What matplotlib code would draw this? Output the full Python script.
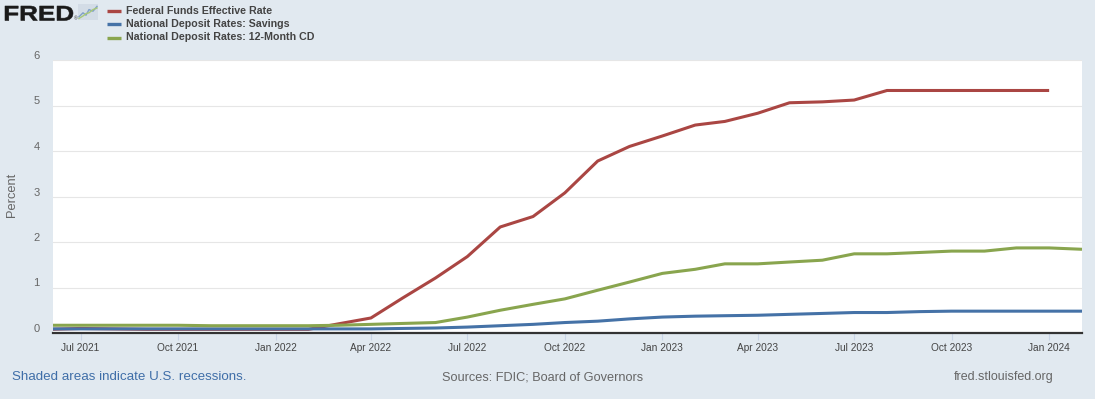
import datetime as dt
import matplotlib
matplotlib.use("Agg")
import matplotlib.pyplot as plt
from matplotlib.textpath import TextPath
from matplotlib.patches import PathPatch, Rectangle
from matplotlib.font_manager import FontProperties
from matplotlib.transforms import Affine2D, ScaledTranslation
from matplotlib.lines import Line2D

# ---- data (monthly, percent) ----
ffr_start = (2021, 6)
fed_funds = [0.08, 0.10, 0.09, 0.08, 0.08, 0.08, 0.08,
             0.08, 0.08, 0.20, 0.33, 0.77, 1.21, 1.68, 2.33, 2.56, 3.08, 3.78, 4.10,
             4.33, 4.57, 4.65, 4.83, 5.06, 5.08, 5.12, 5.33, 5.33, 5.33, 5.33, 5.33,
             5.33]
savings = [0.09, 0.09, 0.09, 0.09, 0.09, 0.09, 0.09,
           0.09, 0.09, 0.09, 0.09, 0.10, 0.11, 0.13, 0.16, 0.19, 0.23, 0.26, 0.31,
           0.35, 0.37, 0.38, 0.39, 0.41, 0.43, 0.45, 0.45, 0.47, 0.48, 0.48, 0.48,
           0.48, 0.48]
cd_12m = [0.17, 0.17, 0.17, 0.17, 0.17, 0.16, 0.16,
          0.16, 0.16, 0.17, 0.19, 0.21, 0.23, 0.35, 0.50, 0.63, 0.75, 0.94, 1.12,
          1.31, 1.40, 1.52, 1.52, 1.56, 1.60, 1.74, 1.74, 1.77, 1.80, 1.80, 1.87,
          1.87, 1.84]
series_names = ["Federal Funds Effective Rate",
                "National Deposit Rates: Savings",
                "National Deposit Rates: 12-Month CD"]
series_colors = ["#AA4643", "#4572A7", "#89A54E"]
tick_dates = [dt.date(2021, 7, 1), dt.date(2021, 10, 1), dt.date(2022, 1, 1),
              dt.date(2022, 4, 1), dt.date(2022, 7, 1), dt.date(2022, 10, 1),
              dt.date(2023, 1, 1), dt.date(2023, 4, 1), dt.date(2023, 7, 1),
              dt.date(2023, 10, 1), dt.date(2024, 1, 1)]
tick_labels = ["Jul 2021", "Oct 2021", "Jan 2022", "Apr 2022", "Jul 2022",
               "Oct 2022", "Jan 2023", "Apr 2023", "Jul 2023", "Oct 2023",
               "Jan 2024"]
y_ticks = [0, 1, 2, 3, 4, 5, 6]


def month_series(start, n):
    y, m = start
    out = []
    for _ in range(n):
        out.append(dt.date(y, m, 1))
        m += 1
        if m > 12:
            m = 1
            y += 1
    return out


W, H = 1095, 399
BG = "#E1E9F0"
plt.rcParams["font.family"] = ["Liberation Sans", "DejaVu Sans"]

fig = plt.figure(figsize=(W / 100, H / 100), dpi=100, facecolor=BG)

# plot area in pixel terms
L, R, T, B = 53, 1082, 60, 333
ax = fig.add_axes([L / W, (H - B) / H, (R - L) / W, (B - T) / H])
ax.set_facecolor("white")

d_ffr = month_series(ffr_start, len(fed_funds))
d_sav = month_series(ffr_start, len(savings))
d_cd = month_series(ffr_start, len(cd_12m))

lw = 2.2
ax.plot(d_ffr, fed_funds, color=series_colors[0], lw=lw, zorder=3, solid_capstyle="butt")
ax.plot(d_sav, savings, color=series_colors[1], lw=lw, zorder=4, solid_capstyle="butt")
ax.plot(d_cd, cd_12m, color=series_colors[2], lw=lw, zorder=5, solid_capstyle="butt")

ax.set_xlim(dt.date(2021, 6, 5), dt.date(2024, 2, 1))
ax.set_ylim(0, 6)

ax.set_yticks(y_ticks)
ax.set_yticklabels([str(v) for v in y_ticks])
ax.yaxis.grid(True, color="#E6E6E6", lw=0.8)
ax.set_axisbelow(True)
ax.tick_params(axis="y", length=0, pad=9.5, labelsize=8, labelcolor="#666666")
offset = ScaledTranslation(0, 5 / 100, fig.dpi_scale_trans)
for lab in ax.get_yticklabels():
    lab.set_transform(lab.get_transform() + offset)

ax.set_xticks(tick_dates)
ax.set_xticklabels(tick_labels)
ax.tick_params(axis="x", length=5, width=0.8, color="#C8D4E6", pad=2.5,
               labelsize=7.3, labelcolor="#444444")

for s in ["top", "left", "right"]:
    ax.spines[s].set_visible(False)
ax.spines["bottom"].set_color("#333333")
ax.spines["bottom"].set_linewidth(1.6)
ax.spines["bottom"].set_zorder(6)

# y axis title
fig.text(12 / W, 1 - 195 / H, "Percent", rotation=90, ha="center", va="center",
         fontsize=9.3, color="#666666")

# ---- header: logo + legend ----
def px(x, y):
    return x / W, 1 - y / H

logo_prop = FontProperties(family="Liberation Sans", weight="bold")
tp = TextPath((0, 0), "FRED", size=100, prop=logo_prop)
ext = tp.get_extents()
sx = 68 / ext.width
sy = 14.5 / ext.height
tr = Affine2D().translate(-ext.x0, -ext.y0).scale(sx, sy).translate(5, H - 20.5)
fig.add_artist(PathPatch(tp, transform=tr, facecolor="#1A1A1A", edgecolor="#1A1A1A", lw=0.4))
fig.text(*px(73.5, 19), "®", fontsize=3.5, color="#333333", ha="left", va="center")

icon = fig.add_axes([78 / W, 1 - 20 / H, 20 / W, 16 / H])
icon.add_patch(Rectangle((0, 0), 10, 10, facecolor="#D3DCE6", zorder=0))
icon.plot([0.5, 2.5, 4, 5.5, 7.5, 9.5], [2, 4.5, 3, 6.5, 5.5, 8.5], color="#7FA0C8", lw=1.0)
icon.plot([0.5, 2.5, 4, 5.5, 7.5, 9.5], [1, 2.5, 4, 4.5, 6.5, 7.5], color="#A8C878", lw=1.0)
icon.set_xlim(0, 10)
icon.set_ylim(0, 10)
icon.axis("off")

leg_y = [11, 24, 37.5]
for name, col, yy in zip(series_names, series_colors, leg_y):
    fig.add_artist(Line2D([107 / W, 121 / W], [1 - yy / H, 1 - yy / H],
                          color=col, lw=2.4, solid_capstyle="butt"))
    fig.text(*px(126, yy), name, fontsize=7.7, fontweight="bold",
             color="#444444", ha="left", va="center")

# ---- footer ----
fig.text(*px(12, 377), "Shaded areas indicate U.S. recessions.", fontsize=9.6,
         color="#3F6EA8", ha="left", va="center")
fig.text(*px(543, 377), "Sources: FDIC; Board of Governors", fontsize=9.2,
         color="#666666", ha="center", va="center")
fig.text(*px(1054, 377), "fred.stlouisfed.org", fontsize=9.0,
         color="#666666", ha="right", va="center")

fig.savefig("out.png", dpi=100, facecolor=BG)
